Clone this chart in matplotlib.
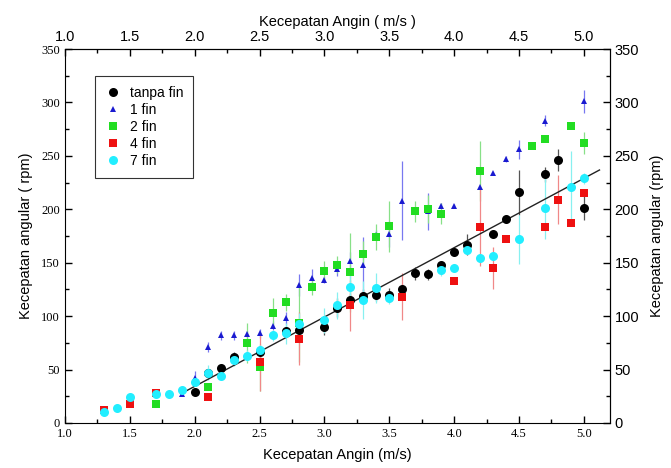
import matplotlib
matplotlib.use("Agg")
import matplotlib.pyplot as plt
from matplotlib.lines import Line2D
from matplotlib.ticker import MultipleLocator

# tanpa fin
x0 = [2.0, 2.1, 2.2, 2.3, 2.5, 2.7, 2.8, 3.0, 3.1, 3.2, 3.3, 3.4, 3.5, 3.6, 3.7,
      3.8, 3.9, 4.0, 4.1, 4.3, 4.4, 4.5, 4.7, 4.8, 5.0]
y0 = [29, 47, 51, 62, 66, 86, 87, 90, 108, 115, 119, 120, 120, 125, 140,
      139, 148, 160, 167, 177, 191, 216, 233, 246, 201]
e0 = [3, 4, 4, 4, 5, 5, 6, 8, 9, 6, 6, 6, 6, 5, 6,
      5, 4, 3, 10, 3, 3, 21, 7, 10, 11]

# 1 fin
x1 = [1.9, 2.0, 2.1, 2.2, 2.3, 2.4, 2.5, 2.6, 2.7, 2.8, 2.9, 3.0, 3.1, 3.2, 3.3,
      3.4, 3.5, 3.6, 3.8, 3.9, 4.0, 4.2, 4.3, 4.4, 4.5, 4.7, 5.0]
y1 = [27, 42, 71, 82, 82, 83, 84, 91, 98, 129, 136, 134, 144, 152, 148,
      176, 177, 208, 198, 203, 203, 221, 234, 247, 256, 283, 301]
e1 = [2, 7, 5, 4, 4, 3, 4, 4, 6, 10, 8, 3, 6, 8, 26,
      5, 12, 37, 17, 3, 2, 0, 0, 3, 9, 5, 11]

# 2 fin
x2 = [1.7, 2.1, 2.4, 2.5, 2.6, 2.7, 2.8, 2.9, 3.0, 3.1, 3.2, 3.3, 3.4, 3.5, 3.7,
      3.8, 3.9, 4.2, 4.6, 4.7, 4.9, 5.0]
y2 = [18, 34, 75, 52, 103, 113, 94, 127, 142, 148, 141, 158, 174, 184, 198,
      200, 196, 236, 259, 266, 278, 262]
e2 = [2, 3, 19, 22, 14, 8, 37, 7, 10, 8, 37, 12, 12, 24, 10,
      13, 10, 28, 0, 3, 0, 10]

# 4 fin
x4 = [1.3, 1.5, 1.7, 2.1, 2.5, 2.8, 3.2, 3.6, 4.0, 4.2, 4.3, 4.4, 4.7, 4.8, 4.9, 5.0]
y4 = [12, 18, 28, 24, 57, 79, 110, 118, 133, 183, 145, 172, 183, 209, 187, 215]
e4 = [2, 2, 3, 2, 27, 25, 24, 22, 3, 36, 20, 3, 2, 23, 2, 3]

# 7 fin
x7 = [1.3, 1.4, 1.5, 1.7, 1.8, 1.9, 2.0, 2.1, 2.2, 2.3, 2.4, 2.5, 2.6, 2.7, 2.8,
      3.0, 3.1, 3.2, 3.3, 3.4, 3.5, 3.9, 4.0, 4.1, 4.2, 4.3, 4.5, 4.7, 4.9, 5.0]
y7 = [10, 14, 24, 27, 27, 31, 38, 47, 44, 59, 63, 68, 82, 84, 93,
      96, 110, 127, 115, 126, 117, 143, 145, 162, 154, 156, 172, 201, 221, 229]
e7 = [0, 0, 0, 0, 0, 0, 3, 7, 3, 6, 5, 5, 5, 10, 10,
      12, 13, 13, 18, 14, 6, 5, 4, 3, 3, 3, 23, 29, 34, 5]

# linear fit (tanpa fin)
fit_slope = 64.9
fit_intercept = -95.5
fit_x = [1.9, 5.12]

series = [
    (x0, y0, e0, "tanpa fin", "o", "black", "#555555", 6.5),
    (x1, y1, e1, "1 fin", "^", "#1a1ad0", "#7878f0", 4.8),
    (x2, y2, e2, "2 fin", "s", "#22dd22", "#88e088", 5.8),
    (x4, y4, e4, "4 fin", "s", "#ee1111", "#f08888", 5.8),
    (x7, y7, e7, "7 fin", "o", "#22eeff", "#88f0f0", 6.5),
]

serif = "Liberation Serif"
sans = "Liberation Sans"

fig = plt.figure(figsize=(6.71, 4.68), dpi=100)
ax = fig.add_axes([0.0969, 0.0962, 0.812, 0.799])

handles = []
for xs, ys, es, lab, mk, col, ecol, ms in series:
    ax.errorbar(xs, ys, yerr=es, fmt=mk, color=col, ecolor=ecol, elinewidth=0.9,
                capsize=3, capthick=0.9, markersize=ms, markeredgewidth=0)
    handles.append(Line2D([], [], ls="none", marker=mk, color=col,
                          markersize=ms, markeredgewidth=0, label=lab))

ax.plot(fit_x, [fit_slope * v + fit_intercept for v in fit_x], color="#222222", lw=1)

ax.set_xlim(1.0, 5.2)
ax.set_ylim(0, 350)
ax.xaxis.set_major_locator(MultipleLocator(0.5))
ax.xaxis.set_minor_locator(MultipleLocator(0.25))
ax.yaxis.set_major_locator(MultipleLocator(50))
ax.yaxis.set_minor_locator(MultipleLocator(25))
ax.tick_params(which="both", direction="in", width=1)
ax.tick_params(which="major", length=5)
ax.tick_params(which="minor", length=3)
ax.set_xticks(ax.get_xticks())
ax.set_xticklabels([f"{v:.1f}" for v in ax.get_xticks()], family=serif, fontsize=9)
ax.set_yticks(ax.get_yticks())
ax.set_yticklabels([f"{int(v)}" for v in ax.get_yticks()], family=serif, fontsize=9)
ax.set_xlim(1.0, 5.2)
ax.set_ylim(0, 350)
ax.set_xlabel("Kecepatan Angin (m/s)", family=sans, fontsize=10.5, labelpad=6)
ax.set_ylabel("Kecepatan angular ( rpm)", family=sans, fontsize=10.5, labelpad=6)

# top axis
axt = ax.secondary_xaxis("top")
axt.xaxis.set_major_locator(MultipleLocator(0.5))
axt.xaxis.set_minor_locator(MultipleLocator(0.25))
axt.tick_params(which="both", direction="in", width=1)
axt.tick_params(which="major", length=5, labelsize=10.5)
axt.tick_params(which="minor", length=3)
for t in axt.get_xticklabels():
    t.set_family(sans)
axt.set_xlabel("Kecepatan Angin ( m/s )", family=sans, fontsize=10.5, labelpad=3)

# right axis
axr = ax.secondary_yaxis("right")
axr.yaxis.set_major_locator(MultipleLocator(50))
axr.yaxis.set_minor_locator(MultipleLocator(25))
axr.tick_params(which="both", direction="in", width=1)
axr.tick_params(which="major", length=5, labelsize=10.5)
axr.tick_params(which="minor", length=3)
for t in axr.get_yticklabels():
    t.set_family(sans)
axr.set_ylabel("Kecepatan angular (rpm)", family=sans, fontsize=10.5,
               rotation=90, labelpad=8)

leg = ax.legend(handles=handles, loc="upper left", bbox_to_anchor=(0.055, 0.928),
                borderaxespad=0, prop={"family": sans, "size": 10},
                frameon=True, fancybox=False, edgecolor="black",
                labelspacing=0.22, handletextpad=0.6, borderpad=0.7,
                handlelength=1.2)
leg.get_frame().set_linewidth(0.8)

fig.savefig("out.png", dpi=100)
